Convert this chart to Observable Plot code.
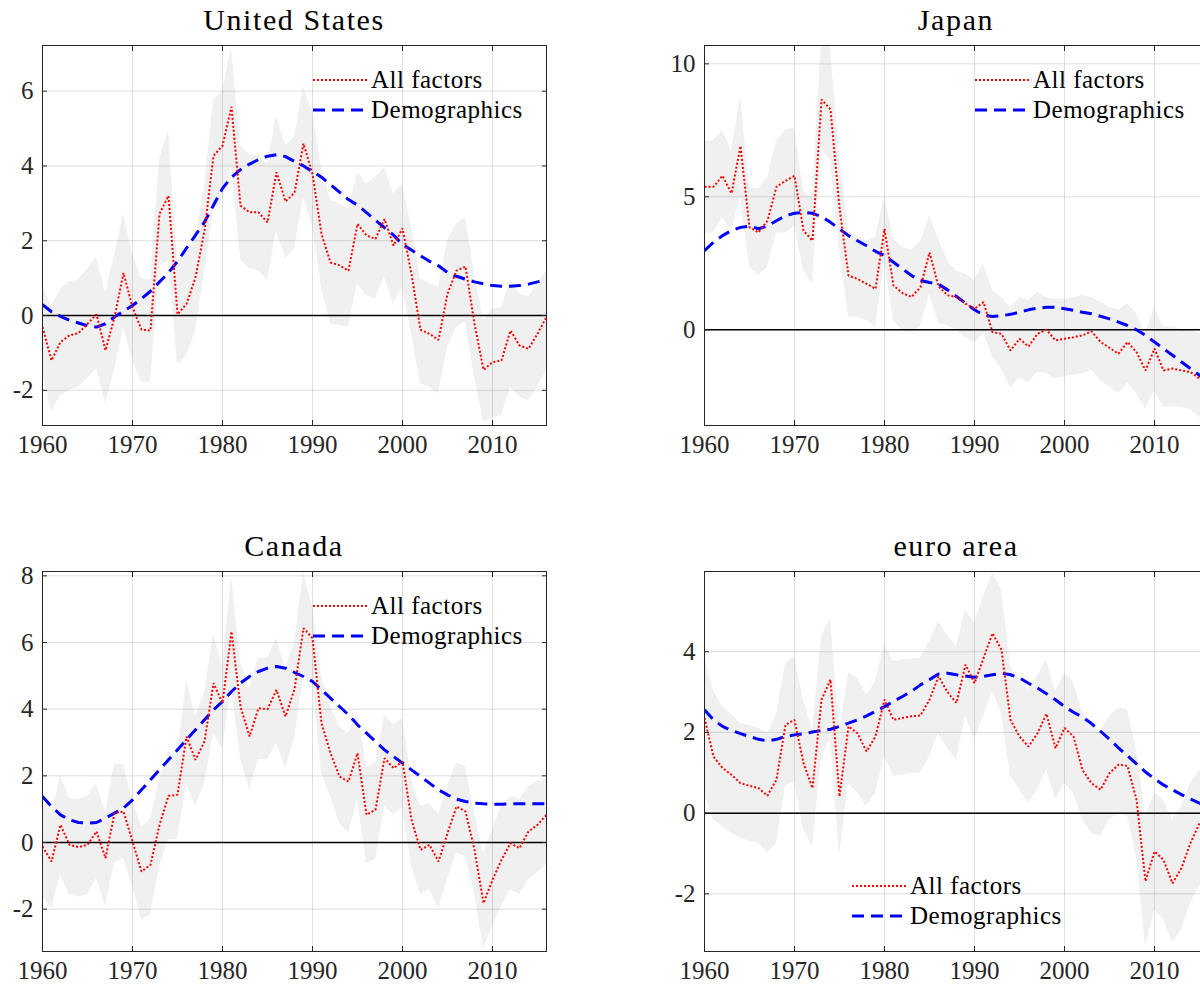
<!DOCTYPE html>
<html>
<head>
<meta charset="utf-8">
<script src="https://cdn.jsdelivr.net/npm/d3@7"></script>
<script src="https://cdn.jsdelivr.net/npm/@observablehq/plot@0.6"></script>
<style>
  body { margin: 0; background: #fff; }
  #page {
    position: relative; width: 1200px; height: 988px; overflow: hidden; background: #fff;
    font-family: "Liberation Serif", "DejaVu Serif", serif; color: #262626;
  }
  .panel { position: absolute; }
  .title {
    position: absolute; font-size: 30px; line-height: 30px; color: #000;
    white-space: nowrap; transform: translateX(-50%); letter-spacing: 1.6px;
  }
  .legend { position: absolute; font-size: 25px; color: #000; letter-spacing: 0.5px; }
  .legend .row { display: flex; align-items: center; height: 30px; }
  .legend svg { display: block; margin-right: 4px; }
</style>
</head>
<body>
<div id="page"></div>
<script>
const years = [1960,1961,1962,1963,1964,1965,1966,1967,1968,1969,
  1970,1971,1972,1973,1974,1975,1976,1977,1978,1979,
  1980,1981,1982,1983,1984,1985,1986,1987,1988,1989,
  1990,1991,1992,1993,1994,1995,1996,1997,1998,1999,
  2000,2001,2002,2003,2004,2005,2006,2007,2008,2009,
  2010,2011,2012,2013,2014,2015,2016];
const xTicks = [1960, 1970, 1980, 1990, 2000, 2010];

// United States
const usAll = [-0.31,-1.2,-0.71,-0.53,-0.47,-0.22,0.03,-0.93,-0.05,1.14,
  0.22,-0.38,-0.4,2.72,3.2,0.03,0.31,1.02,2.27,4.27,
  4.54,5.58,2.94,2.76,2.76,2.49,3.83,3.05,3.28,4.6,
  3.78,2.18,1.42,1.34,1.2,2.45,2.14,2.05,2.58,1.87,
  2.33,1.11,-0.38,-0.49,-0.65,0.58,1.2,1.31,-0.22,-1.45,
  -1.25,-1.2,-0.4,-0.8,-0.89,-0.49,-0.04];
const usDemo = [0.29,0.1,-0.02,-0.13,-0.2,-0.27,-0.31,-0.22,-0.04,0.12,
  0.27,0.45,0.65,0.9,1.15,1.45,1.8,2.15,2.5,2.95,
  3.4,3.7,3.9,4.05,4.17,4.26,4.3,4.25,4.12,4.0,
  3.85,3.7,3.5,3.3,3.1,2.95,2.75,2.55,2.35,2.15,
  1.9,1.75,1.6,1.45,1.33,1.15,1.05,0.97,0.9,0.85,
  0.8,0.78,0.78,0.8,0.84,0.9,0.96];
const usLo = [-1.5,-2.58,-2.14,-2.0,-1.91,-1.69,-1.42,-2.36,-1.47,-0.31,
  -1.2,-1.78,-1.8,1.29,1.47,-1.29,-1.11,-0.4,1.11,2.8,
  3.07,4.0,1.51,1.25,1.2,0.93,2.27,1.51,1.78,3.16,
  2.36,0.76,-0.22,-0.27,-0.31,0.85,0.53,0.45,1.02,0.31,
  0.76,-0.49,-1.83,-1.91,-2.09,-0.85,-0.31,-0.18,-1.65,-2.85,
  -2.72,-2.67,-1.91,-2.18,-2.27,-1.91,-1.47];
const usHi = [0.8,0.25,0.7,0.9,0.95,1.25,1.55,0.6,1.6,2.72,
  1.65,0.98,0.95,4.18,4.96,1.45,1.7,2.0,3.43,5.74,
  6.0,7.17,4.54,4.3,4.27,4.05,5.34,4.54,4.76,6.1,
  5.43,3.96,3.07,2.98,2.85,3.83,3.52,3.7,3.96,3.25,
  3.52,2.36,0.98,0.85,0.76,2.0,2.45,2.63,1.11,-0.13,
  0.18,0.22,0.93,0.58,0.49,0.85,1.2];

// Japan
const jpAll = [5.38,5.38,5.79,5.13,6.91,3.85,3.66,4.1,5.38,5.6,
  5.79,3.73,3.35,8.66,8.29,4.6,2.04,1.91,1.73,1.54,
  3.79,1.66,1.38,1.23,1.6,2.91,1.63,1.3,1.23,0.98,
  0.79,1.04,-0.09,-0.15,-0.78,-0.34,-0.63,-0.15,0,-0.4,
  -0.34,-0.28,-0.21,-0.06,-0.46,-0.68,-0.9,-0.46,-0.84,-1.53,
  -0.71,-1.53,-1.46,-1.53,-1.59,-1.84,-2.0];
const jpDemo = [2.98,3.29,3.54,3.73,3.85,3.9,3.8,3.9,4.1,4.29,
  4.38,4.41,4.38,4.25,4.04,3.79,3.54,3.35,3.16,2.95,
  2.79,2.54,2.29,2.04,1.85,1.78,1.72,1.5,1.25,1.0,
  0.75,0.55,0.5,0.53,0.58,0.66,0.75,0.81,0.85,0.85,
  0.79,0.73,0.66,0.6,0.51,0.41,0.29,0.16,0,-0.21,
  -0.46,-0.71,-0.96,-1.21,-1.46,-1.71,-1.96];
const jpLo = [3.6,3.66,4.2,3.7,5.0,2.35,2.04,2.35,3.63,3.63,
  3.9,2.23,1.73,6.8,6.35,3.0,0.48,0.48,0.35,0.1,
  2.6,0.35,-0.03,-0.09,0.1,1.35,0.23,0.16,-0.03,-0.28,
  -0.5,-0.15,-1.0,-1.5,-2.2,-1.8,-2.0,-1.6,-1.65,-1.84,
  -1.78,-1.71,-1.65,-1.53,-1.9,-2.15,-2.4,-2.0,-2.4,-3.0,
  -2.3,-2.9,-2.9,-2.9,-3.0,-3.3,-3.5];
const jpHi = [7.1,7.1,7.5,6.7,8.8,5.3,5.3,5.7,7.1,7.5,
  7.6,5.2,5.0,10.9,10.6,6.5,3.7,3.5,3.3,3.5,
  5.0,3.4,3.1,3.0,3.3,4.3,3.4,2.6,2.2,2.1,
  1.85,2.48,1.48,1.2,0.85,1.2,1.1,1.4,1.2,1.15,
  1.15,1.2,1.3,1.2,1.04,0.85,0.73,0.98,0.6,-0.15,
  0.85,0.1,0.1,0,0,-0.15,-0.4];

// Canada
const caAll = [-0.12,-0.57,0.53,-0.07,-0.14,-0.07,0.33,-0.47,0.88,0.93,
  0.03,-0.87,-0.67,0.53,1.4,1.43,3.18,2.48,3.03,4.78,
  4.18,6.33,4.08,3.18,4.03,4.0,4.58,3.78,4.6,6.43,
  6.13,3.58,2.68,1.98,1.83,2.68,0.83,0.98,2.53,2.23,
  2.43,0.68,-0.22,-0.07,-0.57,0.28,1.08,0.93,-0.22,-1.82,
  -1.12,-0.52,-0.02,-0.17,0.33,0.53,0.83];
const caDemo = [1.38,1.08,0.83,0.68,0.6,0.58,0.6,0.73,0.88,1.03,
  1.28,1.58,1.88,2.18,2.48,2.78,3.08,3.38,3.68,3.98,
  4.23,4.53,4.78,4.98,5.13,5.23,5.28,5.23,5.1,4.98,
  4.83,4.58,4.33,4.08,3.83,3.53,3.28,3.03,2.78,2.58,
  2.38,2.18,1.98,1.78,1.58,1.43,1.3,1.23,1.18,1.16,
  1.15,1.15,1.16,1.16,1.16,1.16,1.16];
const caLo = [-1.62,-1.97,-0.97,-1.57,-1.64,-1.57,-1.07,-1.92,-0.62,-0.47,
  -1.32,-2.32,-2.17,-0.72,0.08,0.08,1.78,1.08,1.78,3.28,
  2.78,4.68,2.53,1.58,2.48,2.48,2.98,2.23,3.1,4.98,
  4.78,2.08,1.38,0.58,0.28,1.28,-0.62,-0.52,1.08,0.83,
  1.03,-0.72,-1.57,-1.42,-1.97,-1.12,-0.32,-0.42,-1.52,-3.22,
  -2.52,-1.92,-1.42,-1.57,-1.12,-0.92,-0.67];
const caHi = [1.3,0.83,2.0,1.33,1.28,1.38,1.78,0.88,2.38,2.33,
  1.28,0.48,0.68,1.88,2.73,2.58,4.88,3.78,4.48,6.28,
  5.28,7.98,5.43,4.63,5.53,5.53,6.13,5.23,6.0,8.1,
  7.08,4.98,4.08,3.48,3.28,3.93,2.28,2.38,3.83,3.53,
  3.73,1.88,1.08,1.18,0.83,1.68,2.38,2.28,0.88,-0.32,
  0.38,1.08,1.38,1.28,1.68,1.83,1.88];

// euro area
const euAll = [2.36,1.4,1.12,0.95,0.74,0.68,0.62,0.43,0.83,2.19,
  2.31,1.24,0.62,2.81,3.31,0.41,2.15,1.98,1.53,1.9,
  2.81,2.31,2.36,2.4,2.42,2.81,3.39,3.0,2.73,3.68,
  3.22,3.84,4.46,4.05,2.31,1.9,1.65,1.98,2.46,1.61,
  2.11,1.9,1.07,0.74,0.58,0.99,1.2,1.17,0.33,-1.69,
  -0.95,-1.16,-1.74,-1.36,-0.74,-0.25,-0.05];
const euDemo = [2.56,2.31,2.15,2.05,1.97,1.9,1.83,1.79,1.83,1.9,
  1.94,1.97,2.01,2.05,2.08,2.15,2.23,2.31,2.41,2.52,
  2.64,2.77,2.89,3.02,3.18,3.31,3.45,3.47,3.43,3.4,
  3.37,3.39,3.43,3.47,3.43,3.35,3.22,3.1,2.96,2.81,
  2.64,2.5,2.38,2.22,2.03,1.83,1.62,1.42,1.22,1.02,
  0.85,0.7,0.58,0.46,0.35,0.25,0.15];
const euLo = [0.5,-0.17,-0.33,-0.5,-0.62,-0.7,-0.74,-0.99,-0.74,0.66,
  0.79,-0.41,-0.83,1.4,1.82,-1.07,0.74,0.5,0.17,0.5,
  1.4,0.91,0.95,0.98,0.99,1.4,1.98,1.6,1.32,2.4,
  1.82,2.4,3.02,2.48,0.91,0.58,0.25,0.58,1.07,0.33,
  0.74,0.5,-0.17,-0.5,-0.58,-0.17,0,-0.08,-1.07,-3.31,
  -2.4,-2.64,-3.22,-2.89,-2.23,-1.82,-1.6];
const euHi = [3.88,3.02,2.64,2.44,2.23,2.17,2.11,1.98,2.44,3.72,
  3.88,2.81,2.07,4.38,4.83,1.98,3.47,3.35,2.93,3.26,
  4.21,3.76,3.8,3.82,3.84,4.26,4.75,4.4,4.13,5.04,
  4.71,5.37,5.95,5.54,3.64,3.26,3.06,3.39,3.8,3.02,
  3.47,3.26,2.48,2.19,2.02,2.4,2.6,2.56,1.57,-0.08,
  0.5,0.33,-0.17,0.17,0.74,1.07,1.3];

const page = document.getElementById("page");
const RED = "#ff0000", BLUE = "#0000ff", AXIS = "#262626";
const fmt = d => String(d);
const MT = 15; // svg space above the plot frame

function panel(p) {
  const data = years.map((year, i) => ({year, all: p.all[i], demo: p.demo[i], lo: p.lo[i], hi: p.hi[i]}));
  const chart = Plot.plot({
    width: 42 + 504 + 20,
    height: MT + 380 + 45,
    marginLeft: 42, marginRight: 20, marginTop: MT, marginBottom: 45,
    style: {background: "transparent", color: AXIS, fontFamily: "Liberation Serif, serif", fontSize: "25px"},
    x: {domain: [1960, 2016]},
    y: {domain: p.yDomain},
    marks: [
      Plot.areaY(data, {x: "year", y1: "lo", y2: "hi", fill: "#f0f0f0", clip: true}),
      Plot.gridX({ticks: xTicks, stroke: AXIS, strokeOpacity: 0.15}),
      Plot.gridY({ticks: p.yTicks, stroke: AXIS, strokeOpacity: 0.15}),
      Plot.ruleY([0], {stroke: "#000", strokeWidth: 1.5}),
      Plot.lineY(data, {x: "year", y: "demo", stroke: BLUE, strokeWidth: 3, strokeDasharray: "12 7",
        strokeLinecap: "butt", strokeLinejoin: "miter", clip: true}),
      Plot.lineY(data, {x: "year", y: "all", stroke: RED, strokeWidth: 2, strokeDasharray: "2 2",
        strokeLinecap: "butt", strokeLinejoin: "miter", clip: true}),
      Plot.axisX({ticks: xTicks, tickSize: -5, tickPadding: 15, tickFormat: fmt, label: null}),
      Plot.axisX({anchor: "top", ticks: xTicks, tickSize: -5, tickFormat: () => "", label: null}),
      Plot.axisY({ticks: p.yTicks, tickSize: -5, tickPadding: 14, tickFormat: fmt, label: null}),
      Plot.axisY({anchor: "right", ticks: p.yTicks, tickSize: -5, tickFormat: () => "", label: null}),
      Plot.frame({stroke: AXIS})
    ]
  });
  chart.classList.add("panel");
  chart.style.left = p.left + "px";
  chart.style.top = (p.top - MT) + "px";
  page.appendChild(chart);

  const title = document.createElement("div");
  title.className = "title";
  title.textContent = p.title;
  title.style.left = (p.left + 42 + 252) + "px";
  title.style.top = (p.top - 40) + "px";
  page.appendChild(title);

  const legend = document.createElement("div");
  legend.className = "legend";
  legend.style.left = p.legend[0] + "px";
  legend.style.top = p.legend[1] + "px";
  legend.innerHTML =
    `<div class="row"><svg width="54" height="30"><line x1="0" x2="54" y1="15" y2="15" stroke="${RED}" stroke-width="2" stroke-dasharray="2 2"/></svg><span>All factors</span></div>` +
    `<div class="row"><svg width="54" height="30"><line x1="0" x2="54" y1="15" y2="15" stroke="${BLUE}" stroke-width="3" stroke-dasharray="12 7"/></svg><span>Demographics</span></div>`;
  page.appendChild(legend);
}

// p.top is the top edge of each plot frame on the page
panel({title: "United States", left: 0, top: 45, all: usAll, demo: usDemo, lo: usLo, hi: usHi,
  yDomain: [-2.94, 7.22], yTicks: [-2, 0, 2, 4, 6], legend: [313, 65]});
panel({title: "Japan", left: 662, top: 45, all: jpAll, demo: jpDemo, lo: jpLo, hi: jpHi,
  yDomain: [-3.6, 10.69], yTicks: [0, 5, 10], legend: [975, 65]});
panel({title: "Canada", left: 0, top: 571, all: caAll, demo: caDemo, lo: caLo, hi: caHi,
  yDomain: [-3.27, 8.13], yTicks: [-2, 0, 2, 4, 6, 8], legend: [313, 591]});
panel({title: "euro area", left: 662, top: 571, all: euAll, demo: euDemo, lo: euLo, hi: euHi,
  yDomain: [-3.43, 5.99], yTicks: [-2, 0, 2, 4], legend: [852, 871]});
</script>
</body>
</html>
